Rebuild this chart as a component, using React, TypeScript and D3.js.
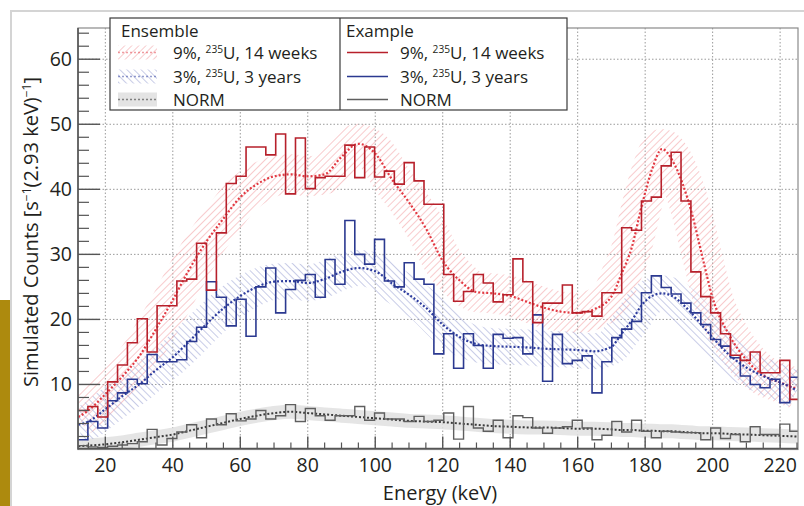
import React from 'react';
import * as d3 from 'd3';

const W = 804;
const H = 506;

// Histogram binning (keV)
const binStart = 11.9;
const binWidth = 2.93;

// "Example" spectra, counts per bin
const redCounts = [
  6.0, 6.6, 5.0, 10.4, 13.0, 16.4, 20.1, 15.0, 22.1, 22.1,
  25.9, 26.2, 31.7, 24.5, 33.3, 40.9, 42.0, 46.5, 46.5, 45.3,
  48.5, 39.3, 47.9, 40.1, 41.8, 42.0, 42.0, 46.8, 41.8, 46.5,
  41.9, 42.8, 40.8, 44.1, 41.3, 37.7, 37.7, 26.9, 22.8, 24.3,
  26.9, 25.6, 22.7, 23.8, 29.3, 25.8, 19.5, 22.5, 22.5, 25.3,
  21.0, 21.2, 20.5, 24.1, 24.1, 34.1, 33.7, 38.2, 38.8, 43.6,
  45.7, 38.2, 27.3, 23.5, 21.0, 17.8, 14.5, 13.7, 15.0, 11.8,
  11.8, 13.7, 7.7,
];
const blueCounts = [
  1.5, 4.3, 3.3, 7.5, 8.7, 10.8, 10.1, 14.6, 13.5, 13.5,
  13.8, 16.6, 18.8, 25.8, 23.4, 19.0, 23.1, 17.4, 25.0, 27.9,
  21.0, 24.6, 26.0, 26.9, 23.4, 29.2, 25.4, 35.2, 30.0, 28.5,
  32.3, 25.9, 25.0, 28.7, 26.2, 25.4, 14.7, 17.8, 12.5, 17.8,
  16.0, 12.5, 17.7, 17.1, 17.2, 14.7, 20.7, 10.5, 17.7, 13.2,
  13.7, 14.4, 8.7, 13.5, 17.2, 18.5, 19.7, 24.1, 26.7, 24.9,
  23.9, 22.5, 21.0, 19.2, 16.9, 15.9, 14.1, 11.3, 10.0, 9.5,
  10.8, 7.2, 11.1,
];
const normCounts = [
  0.6, 0.4, 0.3, 0.5, 0.7, 0.9, 1.2, 3.1, 0.7, 1.7,
  2.7, 3.8, 1.8, 4.7, 3.8, 5.5, 4.4, 4.7, 6.0, 4.7,
  5.2, 6.9, 4.3, 6.3, 5.2, 4.5, 5.2, 5.2, 6.6, 4.5,
  5.6, 4.7, 4.7, 4.3, 5.1, 4.3, 4.5, 5.6, 1.6, 6.6,
  3.3, 2.8, 4.5, 1.8, 5.2, 4.9, 3.3, 2.5, 3.3, 3.5,
  4.5, 3.3, 1.5, 2.2, 4.3, 2.7, 4.5, 2.8, 1.8, 2.8,
  2.7, 2.6, 2.6, 1.5, 3.3, 1.7, 2.3, 1.2, 3.5, 2.3,
  2.3, 3.9, 2.8,
];

// "Ensemble" mean curves
const ensembleEnergy = [
  12, 15, 20, 25, 30, 35, 40, 45, 50, 55, 60, 65, 70, 75, 80, 85, 90, 95, 100,
  105, 110, 115, 120, 125, 130, 135, 140, 145, 150, 155, 160, 165, 170, 173,
  176, 179, 182, 185, 188, 191, 194, 197, 200, 205, 210, 215, 220, 225,
];
const redEnsemble = [
  5.0, 6.0, 8.5, 11.2, 14.3, 18.5, 23.0, 27.8, 32.0, 35.5, 38.8, 40.8, 42.0,
  42.3, 42.0, 42.3, 45.0, 47.0, 45.5, 41.5, 38.0, 34.0, 29.0, 26.0, 24.2, 24.0,
  23.6, 22.7, 21.8, 21.2, 21.0, 21.6, 23.5, 27.0, 31.0, 37.5, 43.0, 46.2, 44.5,
  41.0, 36.0, 29.5, 23.3, 17.5, 13.8, 11.4, 10.3, 9.3,
];
const blueEnsemble = [
  3.8, 4.3, 6.2, 8.2, 10.0, 12.2, 14.2, 16.7, 19.3, 21.7, 23.6, 25.0, 25.8,
  25.9, 25.6, 26.2, 27.3, 27.9, 27.4, 25.5, 23.8, 21.8, 19.2, 17.3, 16.2, 15.9,
  15.8, 15.7, 15.5, 15.4, 15.3, 15.1, 15.8, 17.8, 19.8, 22.2, 23.6, 24.0, 23.6,
  22.4, 20.8, 19.0, 17.2, 14.5, 12.6, 11.3, 10.3, 9.1,
];
const normEnsemble = [
  0.5, 0.6, 0.8, 1.1, 1.5, 1.9, 2.3, 2.9, 3.5, 4.1, 4.7, 5.2, 5.6, 5.8, 5.6,
  5.4, 5.2, 5.0, 4.8, 4.6, 4.4, 4.3, 4.2, 4.0, 3.8, 3.6, 3.5, 3.4, 3.4, 3.3,
  3.2, 3.2, 3.1, 3.0, 3.0, 2.9, 2.9, 2.8, 2.8, 2.7, 2.6, 2.5, 2.5, 2.4, 2.3,
  2.2, 2.1, 2.0,
];

const xTicks = [20, 40, 60, 80, 100, 120, 140, 160, 180, 200, 220];
const yTicks = [10, 20, 30, 40, 50, 60];

const legendEnsemble = ['9%, |235|U, 14 weeks', '3%, |235|U, 3 years', 'NORM'];
const legendExample = ['9%, |235|U, 14 weeks', '3%, |235|U, 3 years', 'NORM'];

const FONT = '"Open Sans", "Noto Sans", sans-serif';
const TXT = '#231f20';

const left = 78, right = 798, top = 28, bottom = 449.5;

const x = d3.scaleLinear().domain([11.9, 225.3]).range([left, right]);
const y = d3.scaleLinear().domain([0, 64.8]).range([bottom, top]);

function histPath(counts: number[]) {
  const pts: [number, number][] = counts.map((c, i) => [binStart + i * binWidth, c]);
  pts.push([binStart + counts.length * binWidth, counts[counts.length - 1]]);
  return d3.line<[number, number]>()
    .x(d => x(d[0]))
    .y(d => y(d[1]))
    .curve(d3.curveStepAfter)(pts) as string;
}

function ensPath(vals: number[]) {
  const pts: [number, number][] = ensembleEnergy.map((e, i) => [e, vals[i]]);
  return d3.line<[number, number]>()
    .x(d => x(d[0]))
    .y(d => y(d[1]))
    .curve(d3.curveMonotoneX)(pts) as string;
}

function Label({ s, x: lx, y: ly, size, anchor }: { s: string; x: number; y: number; size: number; anchor?: string }) {
  const parts = s.split('|');
  return (
    <text x={lx} y={ly} fontSize={size} fontFamily={FONT} fill={TXT} textAnchor={anchor || 'start'}>
      {parts.map((p, i) =>
        i % 2 === 1 ? (
          <tspan key={i} fontSize={size * 0.6} baselineShift="60%">{p}</tspan>
        ) : (
          <tspan key={i}>{p}</tspan>
        )
      )}
    </text>
  );
}

export default function App() {
  const minorX = d3.range(15, 226, 5).filter(v => v % 20 !== 0);
  const minorY = d3.range(2, 65, 2).filter(v => v % 10 !== 0);
  const rowY = [52.5, 76.5, 99.5];

  return (
    <svg width={W} height={H} style={{ position: 'absolute', left: 0, top: 0, display: 'block', background: '#fff' }}>
      <defs>
        <pattern id="hatchRed" patternUnits="userSpaceOnUse" width="5" height="5" patternTransform="rotate(45)">
          <line x1="0" y1="0" x2="0" y2="5" stroke="#f3a8ab" strokeWidth="1.2" />
        </pattern>
        <pattern id="hatchBlue" patternUnits="userSpaceOnUse" width="5" height="5" patternTransform="rotate(-45)">
          <line x1="0" y1="0" x2="0" y2="5" stroke="#a3aad6" strokeWidth="1.2" />
        </pattern>
        <clipPath id="plotClip">
          <rect x={left} y={top} width={right - left} height={bottom - top} />
        </clipPath>
      </defs>

      {/* gold side bar and panel border */}
      <rect x={0} y={300} width={10} height={206} fill="#ad8a0e" />
      <path d={`M11,${H} L11,11 L${W},11`} fill="none" stroke="#d4d4d4" strokeWidth={2} />

      {/* grid */}
      {xTicks.map(t => (
        <line key={'gx' + t} x1={x(t)} x2={x(t)} y1={top} y2={bottom} stroke="#9a9a9a" strokeWidth={1} strokeDasharray="1.5 2" />
      ))}
      {yTicks.map(t => (
        <line key={'gy' + t} x1={left} x2={right} y1={y(t)} y2={y(t)} stroke="#9a9a9a" strokeWidth={1} strokeDasharray="1.5 2" />
      ))}

      <g clipPath="url(#plotClip)">
        {/* ensemble bands */}
        <path d={ensPath(normEnsemble)} fill="none" stroke="#e0e0e0" strokeWidth={14} strokeOpacity={0.85} />
        <path d={ensPath(redEnsemble)} fill="none" stroke="url(#hatchRed)" strokeWidth={40} />
        <path d={ensPath(blueEnsemble)} fill="none" stroke="url(#hatchBlue)" strokeWidth={36} />
        {/* ensemble means */}
        <path d={ensPath(normEnsemble)} fill="none" stroke="#3a3a3a" strokeWidth={2} strokeDasharray="2 2" />
        <path d={ensPath(redEnsemble)} fill="none" stroke="#e23a43" strokeWidth={2.2} strokeDasharray="2 2" />
        <path d={ensPath(blueEnsemble)} fill="none" stroke="#2e3d9e" strokeWidth={2.2} strokeDasharray="2 2" />
        {/* example histograms */}
        <path d={histPath(normCounts)} fill="none" stroke="#5f5f5f" strokeWidth={1.4} />
        <path d={histPath(blueCounts)} fill="none" stroke="#2b3990" strokeWidth={1.6} />
        <path d={histPath(redCounts)} fill="none" stroke="#b7202b" strokeWidth={1.6} />
      </g>

      {/* frame */}
      <rect x={left} y={top} width={right - left} height={bottom - top} fill="none" stroke="#8a8a8a" strokeWidth={1.2} />
      <line x1={left} x2={left} y1={top} y2={bottom} stroke="#555" strokeWidth={1.6} />
      <line x1={left} x2={right} y1={bottom - 1} y2={bottom - 1} stroke="#555" strokeWidth={1.6} />

      {/* ticks */}
      {yTicks.map(t => (
        <line key={'ty' + t} x1={left} x2={left + 22} y1={y(t)} y2={y(t)} stroke="#555" strokeWidth={1.4} />
      ))}
      {minorY.map(t => (
        <line key={'my' + t} x1={left} x2={left + 11} y1={y(t)} y2={y(t)} stroke="#555" strokeWidth={1.2} />
      ))}
      {xTicks.map(t => (
        <line key={'tx' + t} x1={x(t)} x2={x(t)} y1={bottom - 1} y2={bottom - 13} stroke="#555" strokeWidth={1.4} />
      ))}
      {minorX.map(t => (
        <line key={'mx' + t} x1={x(t)} x2={x(t)} y1={bottom - 1} y2={bottom - 7} stroke="#555" strokeWidth={1.2} />
      ))}

      {/* tick labels */}
      {yTicks.map(t => (
        <text key={'ly' + t} x={72} y={y(t)} dy="0.36em" textAnchor="end" fontSize={19.5} fontFamily={FONT} fill={TXT}>{t}</text>
      ))}
      {xTicks.map(t => (
        <text key={'lx' + t} x={x(t)} y={472} textAnchor="middle" fontSize={19.5} fontFamily={FONT} fill={TXT}>{t}</text>
      ))}

      {/* axis titles */}
      <text x={440} y={500} textAnchor="middle" fontSize={20} fontFamily={FONT} fill={TXT}>Energy (keV)</text>
      <text transform="translate(38,232) rotate(-90)" textAnchor="middle" fontSize={20} fontFamily={FONT} fill={TXT}>
        <tspan>Simulated Counts [s</tspan>
        <tspan fontSize={12} baselineShift="60%">−1</tspan>
        <tspan>(2.93 keV)</tspan>
        <tspan fontSize={12} baselineShift="60%">−1</tspan>
        <tspan>]</tspan>
      </text>

      {/* legend */}
      <rect x={110} y={18} width={457} height={92} fill="#fff" stroke="#3a3a3a" strokeWidth={1.2} />
      <line x1={340} x2={340} y1={18} y2={110} stroke="#3a3a3a" strokeWidth={1.2} />
      <text x={121} y={37} fontSize={17} fontFamily={FONT} fill={TXT}>Ensemble</text>
      <text x={346} y={37} fontSize={17} fontFamily={FONT} fill={TXT}>Example</text>
      {/* ensemble swatches */}
      <rect x={118} y={rowY[0] - 7} width={39} height={14} fill="url(#hatchRed)" />
      <line x1={118} x2={157} y1={rowY[0]} y2={rowY[0]} stroke="#e23a43" strokeWidth={1.5} strokeDasharray="2 2" strokeOpacity={0.5} />
      <rect x={118} y={rowY[1] - 7} width={39} height={14} fill="url(#hatchBlue)" />
      <line x1={118} x2={157} y1={rowY[1]} y2={rowY[1]} stroke="#2e3d9e" strokeWidth={1.5} strokeDasharray="2 2" strokeOpacity={0.5} />
      <rect x={118} y={rowY[2] - 7} width={39} height={14} fill="#e4e4e4" />
      <line x1={118} x2={157} y1={rowY[2]} y2={rowY[2]} stroke="#555" strokeWidth={1.5} strokeDasharray="2 2" strokeOpacity={0.7} />
      {legendEnsemble.map((s, i) => (
        <Label key={'le' + i} s={s} x={173} y={rowY[i] + 6} size={17} />
      ))}
      {/* example swatches */}
      <line x1={347} x2={388} y1={rowY[0]} y2={rowY[0]} stroke="#b7202b" strokeWidth={1.6} />
      <line x1={347} x2={388} y1={rowY[1]} y2={rowY[1]} stroke="#2b3990" strokeWidth={1.6} />
      <line x1={347} x2={388} y1={rowY[2]} y2={rowY[2]} stroke="#5f5f5f" strokeWidth={1.6} />
      {legendExample.map((s, i) => (
        <Label key={'lx' + i} s={s} x={400} y={rowY[i] + 6} size={17} />
      ))}
    </svg>
  );
}
